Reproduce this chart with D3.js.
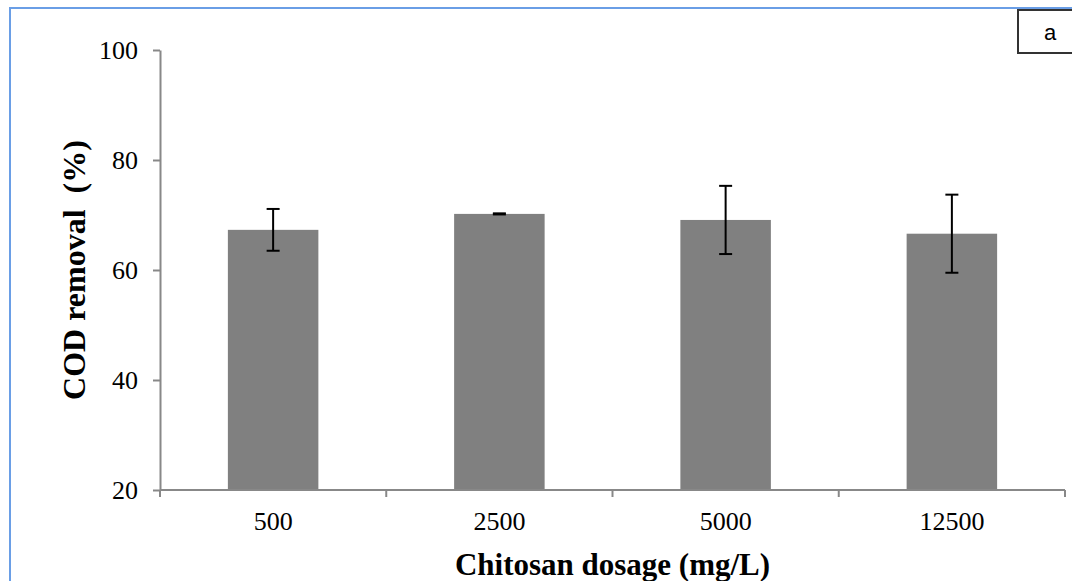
<!DOCTYPE html>
<html lang="en">
<head>
<meta charset="utf-8">
<title>COD removal vs chitosan dosage</title>
<script src="https://d3js.org/d3.v7.min.js"></script>
<style>
  body { margin: 0; background: #fff; }
  svg { display: block; }
</style>
</head>
<body>
<div id="chart"></div>
<script>
// data
var dosages = ["500", "2500", "5000", "12500"];
var removal = [67.3, 70.2, 69.1, 66.6];
var errors  = [3.8, 0.1, 6.2, 7.1];
var yTicks  = [20, 40, 60, 80, 100];

var W = 1072, H = 581;
var plotLeft = 160, plotRight = 1065, plotTop = 50, plotBottom = 490;
var serif = "Liberation Serif, Times New Roman, serif";

var svg = d3.select("#chart").append("svg")
  .attr("width", W)
  .attr("height", H);

// outer blue frame (only left and top edges are visible)
svg.append("path")
  .attr("d", "M10," + H + " L10,8 L" + W + ",8")
  .attr("fill", "none")
  .attr("stroke", "#6a9ee6")
  .attr("stroke-width", 2);

var x = d3.scaleBand()
  .domain(dosages)
  .range([plotLeft, plotRight])
  .paddingInner(0.6)
  .paddingOuter(0.3);

var y = d3.scaleLinear()
  .domain([20, 100])
  .range([plotBottom, plotTop]);

var data = dosages.map(function(d, i) {
  return { dose: d, val: removal[i], err: errors[i] };
});

// bars
svg.selectAll("rect.bar")
  .data(data)
  .enter()
  .append("rect")
  .attr("class", "bar")
  .attr("x", function(d) { return x(d.dose); })
  .attr("y", function(d) { return y(d.val); })
  .attr("width", x.bandwidth())
  .attr("height", function(d) { return y(20) - y(d.val); })
  .attr("fill", "#808080");

// y axis
var yAxis = svg.append("g")
  .attr("transform", "translate(" + plotLeft + ",0)")
  .call(d3.axisLeft(y).tickValues(yTicks).tickSizeInner(7).tickSizeOuter(0).tickPadding(15));

yAxis.select(".domain").attr("stroke", "#888").attr("stroke-width", 2);
yAxis.selectAll(".tick line").attr("stroke", "#888").attr("stroke-width", 2);
yAxis.selectAll(".tick text")
  .attr("font-family", serif)
  .attr("font-size", 26)
  .attr("fill", "#000");

// x axis: ticks sit on band boundaries, labels in band centres
var bounds = d3.range(dosages.length + 1).map(function(i) {
  return plotLeft + i * (plotRight - plotLeft) / dosages.length;
});
var xAxis = svg.append("g")
  .attr("transform", "translate(0," + plotBottom + ")");
xAxis.append("line")
  .attr("x1", plotLeft).attr("x2", plotRight)
  .attr("stroke", "#888").attr("stroke-width", 2);
xAxis.selectAll("line.tk")
  .data(bounds)
  .enter()
  .append("line")
  .attr("class", "tk")
  .attr("x1", function(d) { return d; })
  .attr("x2", function(d) { return d; })
  .attr("y1", 0).attr("y2", 7)
  .attr("stroke", "#888").attr("stroke-width", 2);
xAxis.selectAll("text")
  .data(dosages)
  .enter()
  .append("text")
  .attr("x", function(d) { return x(d) + x.bandwidth() / 2; })
  .attr("y", 40)
  .attr("text-anchor", "middle")
  .attr("font-family", serif)
  .attr("font-size", 26)
  .attr("fill", "#000")
  .text(function(d) { return d; });

// error bars
var eb = svg.selectAll("g.err")
  .data(data)
  .enter()
  .append("g")
  .attr("class", "err")
  .attr("stroke", "#000")
  .attr("stroke-width", 2);
eb.append("line")
  .attr("x1", function(d) { return x(d.dose) + x.bandwidth() / 2; })
  .attr("x2", function(d) { return x(d.dose) + x.bandwidth() / 2; })
  .attr("y1", function(d) { return y(d.val + d.err); })
  .attr("y2", function(d) { return y(d.val - d.err); });
eb.append("line")
  .attr("x1", function(d) { return x(d.dose) + x.bandwidth() / 2 - 6.5; })
  .attr("x2", function(d) { return x(d.dose) + x.bandwidth() / 2 + 6.5; })
  .attr("y1", function(d) { return y(d.val + d.err); })
  .attr("y2", function(d) { return y(d.val + d.err); });
eb.append("line")
  .attr("x1", function(d) { return x(d.dose) + x.bandwidth() / 2 - 6.5; })
  .attr("x2", function(d) { return x(d.dose) + x.bandwidth() / 2 + 6.5; })
  .attr("y1", function(d) { return y(d.val - d.err); })
  .attr("y2", function(d) { return y(d.val - d.err); });

// axis titles
svg.append("text")
  .attr("x", (plotLeft + plotRight) / 2)
  .attr("y", 575)
  .attr("text-anchor", "middle")
  .attr("font-family", serif)
  .attr("font-weight", "bold")
  .attr("font-size", 31)
  .text("Chitosan dosage (mg/L)");

svg.append("text")
  .attr("transform", "translate(85," + (plotTop + plotBottom) / 2 + ") rotate(-90)")
  .attr("text-anchor", "middle")
  .attr("font-family", serif)
  .attr("font-weight", "bold")
  .attr("font-size", 32)
  .style("white-space", "pre")
  .text("COD removal  (%)");

// panel label box
svg.append("rect")
  .attr("x", 1018).attr("y", 10)
  .attr("width", 70).attr("height", 43)
  .attr("fill", "#fff")
  .attr("stroke", "#333")
  .attr("stroke-width", 2);
svg.append("text")
  .attr("x", 1050).attr("y", 40)
  .attr("text-anchor", "middle")
  .attr("font-family", "Liberation Sans, Arial, sans-serif")
  .attr("font-size", 22)
  .text("a");
</script>
</body>
</html>
